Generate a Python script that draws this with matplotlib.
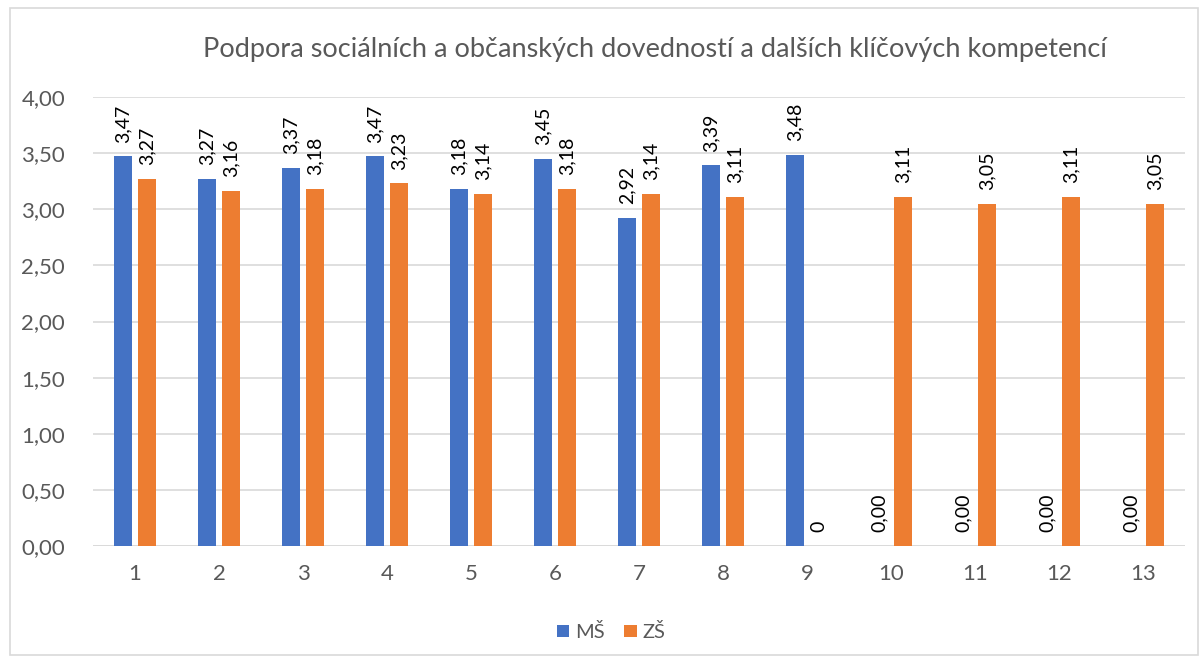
import numpy as np
import matplotlib.pyplot as plt
from matplotlib.patches import Rectangle

categories = [str(i) for i in range(1, 14)]
ms_values = [3.47, 3.27, 3.37, 3.47, 3.18, 3.45, 2.92, 3.39, 3.48, 0, 0, 0, 0]
zs_values = [3.27, 3.16, 3.18, 3.23, 3.14, 3.18, 3.14, 3.11, 0, 3.11, 3.05, 3.11, 3.05]
ms_labels = ['3,47', '3,27', '3,37', '3,47', '3,18', '3,45', '2,92', '3,39', '3,48',
             '0,00', '0,00', '0,00', '0,00']
zs_labels = ['3,27', '3,16', '3,18', '3,23', '3,14', '3,18', '3,14', '3,11', '0',
             '3,11', '3,05', '3,11', '3,05']
yticks = [0, 0.5, 1, 1.5, 2, 2.5, 3, 3.5, 4]
title = 'Podpora sociálních a občanských dovedností a dalších klíčových kompetencí'

plt.rcParams['font.family'] = ['Lato', 'DejaVu Sans']

blue = '#4472C4'
orange = '#ED7D31'
grid = '#D9D9D9'
text_gray = '#595959'

fig = plt.figure(figsize=(12.03, 6.63), dpi=100)
ax = fig.add_axes([93 / 1203, 1 - 546 / 663, (1185 - 93) / 1203, (546 - 97) / 663])

# chart frame
fig.patches.append(Rectangle((10 / 1203, 1 - 655 / 663), 1188 / 1203, 647 / 663,
                             transform=fig.transFigure, fill=False,
                             edgecolor=grid, linewidth=1.2))

x = np.arange(len(categories))
w = 0.225
gap = 0.06
b1 = ax.bar(x - (w + gap) / 2, ms_values, w, color=blue, label='MŠ', zorder=3)
b2 = ax.bar(x + (w + gap) / 2, zs_values, w, color=orange, label='ZŠ', zorder=3)

for bars, labels in [(b1, ms_labels), (b2, zs_labels)]:
    for rect, lab in zip(bars, labels):
        ax.annotate(lab, (rect.get_x() + rect.get_width() / 2, rect.get_height()),
                    xytext=(0, 10), textcoords='offset points', rotation=90,
                    ha='center', va='bottom', fontsize=14, color='black')

ax.set_xlim(-0.5, len(categories) - 0.5)
ax.set_ylim(0, 4)
ax.set_yticks(yticks)
ax.yaxis.set_major_formatter(plt.FuncFormatter(lambda v, p: ('%.2f' % v).replace('.', ',')))
ax.set_xticks(x)
ax.set_xticklabels(categories)
ax.tick_params(axis='both', length=0, labelsize=16, colors=text_gray)
ax.tick_params(axis='x', pad=13)
ax.tick_params(axis='y', pad=20)
ax.grid(axis='y', color=grid, linewidth=1.2, zorder=0)
for s in ax.spines.values():
    s.set_visible(False)
ax.axhline(0, color=grid, linewidth=1.2, zorder=1)

fig.text(655 / 1203, 1 - 50 / 663, title, ha='center', va='center',
         fontsize=19.5, color=text_gray)

fig.legend(handles=[b1, b2], loc='center', bbox_to_anchor=(611 / 1203, 1 - 632 / 663),
           ncol=2, frameon=False, fontsize=14.5, handlelength=0.6, handleheight=0.6,
           handletextpad=0.3, columnspacing=1.0, labelcolor=text_gray)

fig.savefig('out.png', dpi=100)
